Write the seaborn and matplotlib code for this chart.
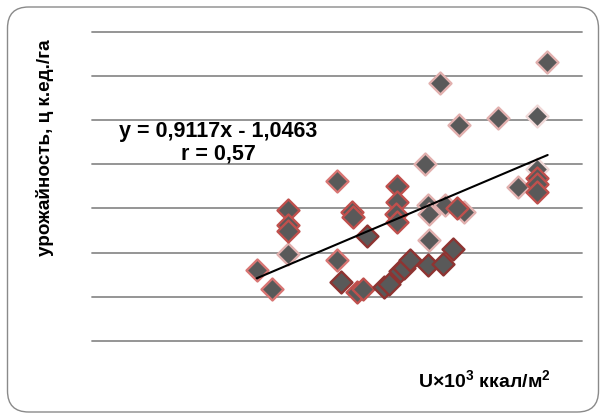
import matplotlib
matplotlib.use("Agg")
import matplotlib.pyplot as plt
from matplotlib.patches import FancyBboxPatch
import seaborn as sns
import pandas as pd
import numpy as np

# ---- data ----
x_vals = [2.71, 2.86, 3.03, 3.03, 3.03, 3.03, 3.55, 3.71, 3.72, 3.55, 3.59, 3.86,
          3.76, 3.82, 4.04, 4.09, 4.18, 4.18, 4.17, 4.18, 4.21, 4.25, 4.31, 4.50,
          4.66, 4.77, 4.51, 4.50, 4.51, 4.68, 4.81, 4.88, 4.47, 4.63, 4.83, 5.24,
          5.65, 5.76, 5.65, 5.45, 5.65, 5.65, 5.65]
y_vals = [1.61, 1.18, 2.96, 2.62, 2.49, 1.97, 3.62, 2.92, 2.81, 1.83, 1.34, 2.38,
          1.11, 1.18, 1.22, 1.29, 3.51, 3.14, 2.87, 2.69, 1.58, 1.65, 1.83, 1.72,
          1.74, 2.08, 2.29, 3.08, 2.87, 3.08, 3.01, 2.92, 4.00, 5.84, 4.89, 5.04,
          5.09, 6.31, 3.89, 3.48, 3.69, 3.55, 3.37]
edge_group = ["mid", "mid", "red", "red", "red", "light", "mid", "red", "red", "mid", "dark", "dark",
              "red", "red", "dark", "dark", "red", "red", "red", "red", "dark", "dark", "dark", "dark",
              "dark", "dark", "light", "light", "light", "light", "red", "light", "light", "light", "light", "light",
              "vlight", "light", "vlight", "light", "red", "red", "red"]
edge_colors = {"vlight": "#f0d8d7", "light": "#e2b0ae", "mid": "#d87573",
               "red": "#c0504d", "dark": "#8e3432"}

trend_slope = 0.9117
trend_intercept = -1.0463
trend_x = [2.703, 5.762]
equation_text = "y = 0,9117x - 1,0463\nr = 0,57"
y_label = "урожайность, ц к.ед./га"
x_label = "U×10$^{\\mathbf{3}}$ ккал/м$^{\\mathbf{2}}$"
grid_levels = [0, 1, 2, 3, 4, 5, 6, 7]

df = pd.DataFrame({"x": x_vals, "y": y_vals, "g": edge_group})

sns.set_theme(style="white")
plt.rcParams['font.family'] = ['Liberation Sans', 'DejaVu Sans']
plt.rcParams['mathtext.fontset'] = 'custom'
plt.rcParams['mathtext.bf'] = 'Liberation Sans:bold'
plt.rcParams['mathtext.rm'] = 'Liberation Sans:bold'

fig = plt.figure(figsize=(6.04, 4.18), dpi=100)
fig.patch.set_facecolor("white")
frame = FancyBboxPatch((7.5 / 604, 6 / 418), 591 / 604, 405 / 418,
                       boxstyle="round,pad=0,rounding_size=0.035",
                       transform=fig.transFigure, facecolor="none",
                       edgecolor="#8a8a8a", linewidth=1.0, mutation_aspect=604 / 418,
                       zorder=-1)
fig.patches.append(frame)

ax = fig.add_axes([92 / 604, (418 - 341) / 418, 490 / 604, 309.5 / 418])
ax.set_facecolor("none")
ax.set_xlim(0.972, 6.123)
ax.set_ylim(0, 7)

for lv in grid_levels:
    ax.axhline(lv, color="#8c8c8c", linewidth=1.3, zorder=1, clip_on=False)

for g, ec in edge_colors.items():
    sub = df[df["g"] == g]
    if len(sub):
        sns.scatterplot(data=sub, x="x", y="y", ax=ax, marker="D", s=125,
                        color="#595959", edgecolor=ec, linewidth=1.7, zorder=3,
                        legend=False)

tx = np.array(trend_x)
sns.lineplot(x=tx, y=trend_slope * tx + trend_intercept, ax=ax, color="black",
             linewidth=1.5, zorder=4)

ax.set_xticks([])
ax.set_yticks([])
ax.set_xlabel("")
ax.set_ylabel("")
for s in ax.spines.values():
    s.set_visible(False)

fig.text(218 / 604, 1 - 142.5 / 418, equation_text, ha="center", va="center",
         fontsize=15.5, fontweight="bold", linespacing=1.1, color="black")
fig.text(45 / 604, 1 - 148 / 418, y_label, rotation=90, ha="center", va="center",
         fontsize=13.6, fontweight="bold", color="black")
fig.text(418 / 604, 1 - 381 / 418, x_label, ha="left", va="center",
         fontsize=14.0, fontweight="bold", color="black")

fig.savefig("out.png", dpi=100)
